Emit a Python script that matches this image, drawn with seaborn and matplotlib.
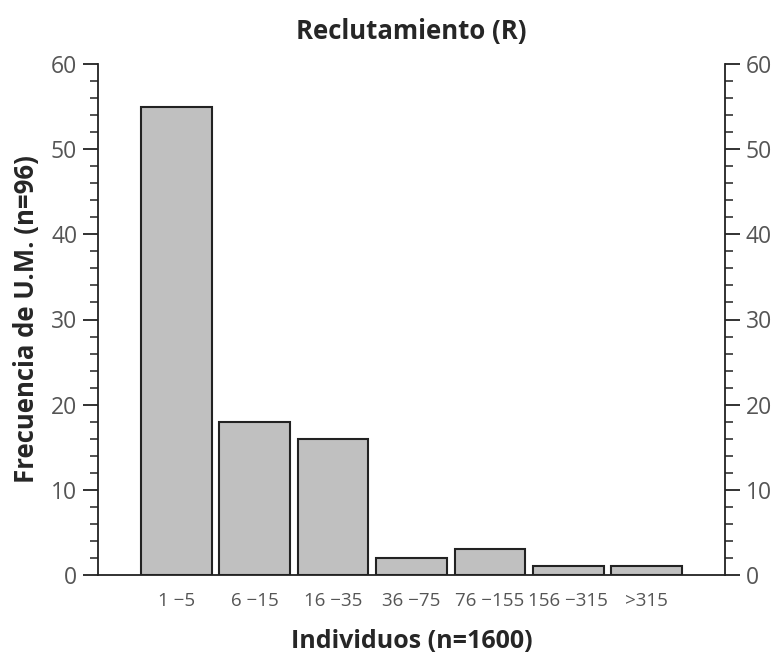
import matplotlib
matplotlib.use("Agg")
import matplotlib.pyplot as plt
from matplotlib.ticker import MultipleLocator
import seaborn as sns
import pandas as pd

categories = ["1 \u22125", "6 \u221215", "16 \u221235", "36 \u221275", "76 \u2212155", "156 \u2212315", ">315"]
frequencies = [55, 18, 16, 2, 3, 1, 1]

sns.set_theme(style="white")
plt.rcParams["font.family"] = ["Open Sans", "DejaVu Sans"]

df = pd.DataFrame({"clase": categories, "freq": frequencies})

fig = plt.figure(figsize=(7.77, 6.56), dpi=100)
ax = fig.add_axes([98 / 777, 1 - 575 / 656, (725 - 98) / 777, (575 - 64) / 656])

sns.barplot(data=df, x="clase", y="freq", color="#c0c0c0", saturation=1,
            edgecolor="#222222", linewidth=1.5, width=0.9, ax=ax)

ax.set_xlim(-1, 7)
ax.set_ylim(0, 60)
ax.yaxis.set_major_locator(MultipleLocator(10))
ax.yaxis.set_minor_locator(MultipleLocator(2))

ax.spines["top"].set_visible(False)
for side in ["left", "right", "bottom"]:
    ax.spines[side].set_color("#222222")
    ax.spines[side].set_linewidth(1.3)

ax.tick_params(axis="y", which="major", direction="out", length=11, width=1.3,
               color="#222222", labelsize=16.5, labelcolor="#555555", pad=4,
               left=True, right=True, labelleft=True, labelright=True)
ax.tick_params(axis="y", which="minor", direction="out", length=6, width=1.1,
               color="#222222", left=True, right=True)
ax.tick_params(axis="x", which="both", length=0, labelsize=13.5,
               labelcolor="#555555", pad=12)

ax.set_title("Reclutamiento (R)", fontsize=18.5, fontweight="bold", pad=18)
ax.set_xlabel("Individuos (n=1600)", fontsize=18, fontweight="bold", labelpad=14)
ax.set_ylabel("Frecuencia de U.M. (n=96)", fontsize=18.5, fontweight="bold", labelpad=8)

fig.savefig("out.png", dpi=100)
